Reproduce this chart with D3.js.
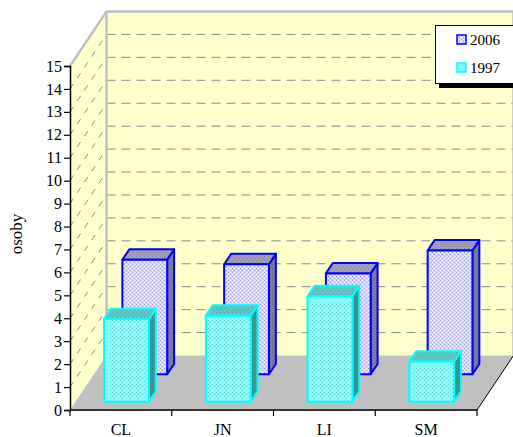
<!DOCTYPE html>
<html>
<head>
<meta charset="utf-8">
<script src="https://cdn.jsdelivr.net/npm/d3@7"></script>
<style>
  body { margin: 0; background: #fff; }
  svg { display: block; }
  svg text { font-family: 'Liberation Serif', 'Times New Roman', serif; fill: #000; }
</style>
</head>
<body>
<svg id="chart" width="513" height="437"></svg>
<script>
'use strict';

/* global d3 */

var categories = ['CL', 'JN', 'LI', 'SM'];
var seriesNames = ['2006', '1997'];
var values2006 = [5.0, 4.8, 4.4, 5.4];
var values1997 = [3.6, 3.75, 4.6, 1.75];
var yTicks = [0, 1, 2, 3, 4, 5, 6, 7, 8, 9, 10, 11, 12, 13, 14, 15];
var yTitle = 'osoby';

var plot = { left: 70, right: 477, top: 66, bottom: 410 };
// oblique offset of the back wall
var depth = { dx: 36.5, dy: 54.5 };
var serif = "'Liberation Serif', 'Times New Roman', serif";

var svg = d3.select('#chart');

var x = d3.scaleBand().domain(categories).range([plot.left, plot.right]);
var y = d3.scaleLinear().domain([0, 15]).range([plot.bottom, plot.top]);
var bw = x.bandwidth();

// point at horizontal position px, value v, depth z (0 = front, 1 = back)
function pt(px, v, z) {
  return [px + z * depth.dx, y(v) - z * depth.dy];
}
function poly(points) {
  return 'M' + points.map(function(p) { return p[0] + ',' + p[1]; }).join('L') + 'Z';
}

// fill textures, roughly like the excel ones
var defs = svg.append('defs');
function dotPattern(id, base, dot, dot2) {
  var p = defs.append('pattern').attr('id', id)
    .attr('width', 4).attr('height', 4).attr('patternUnits', 'userSpaceOnUse');
  p.append('rect').attr('width', 4).attr('height', 4).attr('fill', base);
  p.append('rect').attr('x', 0).attr('y', 0).attr('width', 1).attr('height', 1).attr('fill', dot);
  p.append('rect').attr('x', 2).attr('y', 2).attr('width', 1).attr('height', 1).attr('fill', dot);
  if (dot2) {
    p.append('rect').attr('x', 2).attr('y', 0).attr('width', 1).attr('height', 1).attr('fill', dot2);
    p.append('rect').attr('x', 0).attr('y', 2).attr('width', 1).attr('height', 1).attr('fill', dot2);
  }
}
dotPattern('blueFront', '#d4d4fc', '#9a9af0', '#ffffff');
dotPattern('blueTop', '#a0a0b0', '#80809c');
dotPattern('blueSide', '#7c7ca0', '#606088');
dotPattern('cyanFront', '#7affff', '#4ee8e8', '#b0ffff');
dotPattern('cyanTop', '#62c4c4', '#4aa8a8');
dotPattern('cyanSide', '#3c9696', '#2e8080');

var series = [
  { name: '2006', values: values2006, z0: 0.655, z1: 0.845, stroke: '#0000ff',
    front: 'url(#blueFront)', top: 'url(#blueTop)', side: 'url(#blueSide)' },
  { name: '1997', values: values1997, z0: 0.153, z1: 0.343, stroke: '#00ffff',
    front: 'url(#cyanFront)', top: 'url(#cyanTop)', side: 'url(#cyanSide)' }
];

// ---- walls and floor
var walls = svg.append('g');
walls.append('path')
  .attr('d', poly([pt(plot.left, 0, 0), pt(plot.left, 15, 0), pt(plot.left, 15, 1), pt(plot.left, 0, 1)]))
  .attr('fill', '#ffffcc');
walls.append('path')
  .attr('d', poly([pt(plot.left, 0, 1), pt(plot.left, 15, 1), pt(plot.right, 15, 1), pt(plot.right, 0, 1)]))
  .attr('fill', '#ffffcc');

// gridlines on back wall and side wall
var grid = yTicks.filter(function(v) { return v > 0 && v < 15; });
walls.selectAll('line.back-grid').data(grid).enter().append('line')
  .attr('class', 'back-grid')
  .attr('x1', function(v) { return pt(plot.left, v, 1)[0]; })
  .attr('y1', function(v) { return pt(plot.left, v, 1)[1]; })
  .attr('x2', function(v) { return pt(plot.right, v, 1)[0]; })
  .attr('y2', function(v) { return pt(plot.right, v, 1)[1]; })
  .attr('stroke', '#8c8c8c').attr('stroke-width', 1).attr('stroke-dasharray', '9,6');
walls.selectAll('line.side-grid').data(grid).enter().append('line')
  .attr('class', 'side-grid')
  .attr('x1', function(v) { return pt(plot.left, v, 0)[0]; })
  .attr('y1', function(v) { return pt(plot.left, v, 0)[1]; })
  .attr('x2', function(v) { return pt(plot.left, v, 1)[0]; })
  .attr('y2', function(v) { return pt(plot.left, v, 1)[1]; })
  .attr('stroke', '#8c8c8c').attr('stroke-width', 1).attr('stroke-dasharray', '6,7');

walls.append('path')
  .attr('d', poly([pt(plot.left, 0, 0), pt(plot.right, 0, 0), pt(plot.right, 0, 1), pt(plot.left, 0, 1)]))
  .attr('fill', '#c0c0c0');

// wall outlines
var edge = d3.line();
walls.append('path')
  .attr('d', edge([pt(plot.left, 15, 0), pt(plot.left, 15, 1), pt(plot.right, 15, 1), pt(plot.right, 0, 1)]))
  .attr('fill', 'none').attr('stroke', '#c0c0c0').attr('stroke-width', 2.5);
walls.append('path')
  .attr('d', edge([pt(plot.left, 15, 1), pt(plot.left, 0, 1)]))
  .attr('fill', 'none').attr('stroke', '#c0c0c0').attr('stroke-width', 2.5);
walls.append('path')
  .attr('d', edge([pt(plot.right, 0, 0), pt(plot.right, 0, 1)]))
  .attr('fill', 'none').attr('stroke', '#000').attr('stroke-width', 1);

// ---- bars, back row first
var bars = svg.append('g');
series.forEach(function(s) {
  categories.forEach(function(c, i) {
    var v = s.values[i];
    var xa = x(c) + bw * 0.28, xb = x(c) + bw * 0.72;
    var g = bars.append('g')
      .attr('stroke', s.stroke).attr('stroke-width', 2).attr('stroke-linejoin', 'round');
    g.append('path')
      .attr('d', poly([pt(xb, 0, s.z0), pt(xb, 0, s.z1), pt(xb, v, s.z1), pt(xb, v, s.z0)]))
      .attr('fill', s.side);
    g.append('path')
      .attr('d', poly([pt(xa, v, s.z0), pt(xb, v, s.z0), pt(xb, v, s.z1), pt(xa, v, s.z1)]))
      .attr('fill', s.top);
    g.append('path')
      .attr('d', poly([pt(xa, 0, s.z0), pt(xb, 0, s.z0), pt(xb, v, s.z0), pt(xa, v, s.z0)]))
      .attr('fill', s.front);
  });
});

// ---- axes
var yAxis = svg.append('g')
  .attr('transform', 'translate(' + plot.left + ',0)')
  .call(d3.axisLeft(y).tickValues(yTicks).tickSize(6).tickPadding(2).tickFormat(d3.format('d')));
yAxis.attr('font-family', serif).attr('font-size', 16);
yAxis.select('.domain').attr('stroke', '#000').attr('stroke-width', 1.5);
yAxis.selectAll('.tick line').attr('stroke', '#000').attr('stroke-width', 1.2);

var xAxis = svg.append('g')
  .attr('transform', 'translate(0,' + plot.bottom + ')')
  .call(d3.axisBottom(x).tickSize(0).tickPadding(13.5));
xAxis.attr('font-family', serif).attr('font-size', 16);
xAxis.select('.domain').remove();

// base line and category dividers
svg.append('line')
  .attr('x1', plot.left).attr('x2', plot.right)
  .attr('y1', plot.bottom).attr('y2', plot.bottom)
  .attr('stroke', '#333').attr('stroke-width', 2);
svg.selectAll('line.cat-tick').data([plot.left].concat(categories.map(function(c) { return x(c) + bw; })))
  .enter().append('line')
  .attr('class', 'cat-tick')
  .attr('x1', function(d) { return d; }).attr('x2', function(d) { return d; })
  .attr('y1', plot.bottom).attr('y2', plot.bottom + 6)
  .attr('stroke', '#000').attr('stroke-width', 1.2);

svg.append('text')
  .attr('transform', 'translate(22,234) rotate(-90)')
  .attr('text-anchor', 'middle')
  .attr('font-size', 17)
  .text(yTitle);

// ---- legend
var legend = svg.append('g');
legend.append('rect').attr('x', 439).attr('y', 30).attr('width', 90).attr('height', 58).attr('fill', '#000');
legend.append('rect').attr('x', 435.5).attr('y', 25.5).attr('width', 90).attr('height', 58)
  .attr('fill', '#fff').attr('stroke', '#000').attr('stroke-width', 1);
var legendItems = legend.selectAll('g.item').data(series).enter().append('g')
  .attr('class', 'item')
  .attr('transform', function(d, i) { return 'translate(457,' + (35 + i * 28) + ')'; });
legendItems.append('rect')
  .attr('width', 9).attr('height', 9)
  .attr('fill', function(d) { return d.front; })
  .attr('stroke', function(d) { return d.stroke; }).attr('stroke-width', 1.5);
legendItems.append('text')
  .attr('x', 13).attr('y', 10)
  .attr('font-size', 15)
  .text(function(d, i) { return seriesNames[i]; });
</script>
</body>
</html>
